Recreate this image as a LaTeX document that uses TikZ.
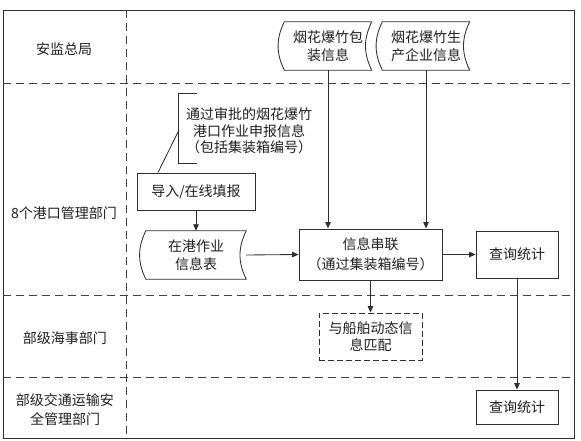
\documentclass[tikz,border=0pt]{standalone}
\usepackage{fontspec}
\setmainfont{Noto Sans CJK SC}
\usetikzlibrary{arrows.meta,calc}
\begin{document}
\begin{tikzpicture}[x=1pt,y=-1pt,
  ln/.style={draw=black!82,line width=0.85pt},
  lane/.style={draw=black!75,line width=0.9pt,dash pattern=on 8pt off 5pt},
  txt/.style={text=black!88,font=\fontsize{14}{18}\selectfont,align=center},
  boxx/.style={txt,ln,inner sep=0pt},
  store/.style={txt,draw=none,inner sep=0pt},
  arr/.style={ln,-{Triangle[length=6.5pt,width=5.5pt]}}]
\useasboundingbox (0,0) rectangle (581,441);
% frame and lanes
\draw[ln] (3,10) rectangle (574,438);
\draw[lane] (126,10) -- (126,438);
\draw[lane] (3,83) -- (574,83);
\draw[lane] (3,295) -- (574,295);
\draw[lane] (3,377) -- (574,377);
% lane labels
\node[txt] (l1) at (64,49) {安监总局};
\node[txt] (l2) at (64,213) {8个港口管理部门};
\node[txt] (l3) at (65,338) {部级海事部门};
\node[txt,font=\fontsize{14}{19}\selectfont] (l4) at (65,410) {部级交通运输安\\全管理部门};
% stored data
\node[store,minimum width=87pt,minimum height=48pt] (pk) at (328,46) {烟花爆竹包\\装信息};
\node[store,minimum width=87pt,minimum height=48pt] (sc) at (426,46) {烟花爆竹生\\产企业信息};
\node[store,minimum width=100pt,minimum height=48pt] (zg) at (196,255) {在港作业\\信息表};
\foreach \s in {pk,sc,zg}{
  \draw[ln] (\s.north west) to[bend right=26] (\s.south west) -- (\s.south east)
            to[bend left=26] (\s.north east) -- cycle;}
% boxes
\node[boxx,minimum width=118pt,minimum height=37pt] (imp) at (196,191.5) {导入/在线填报};
\node[boxx,minimum width=143pt,minimum height=51pt,font=\fontsize{14}{20}\selectfont] (xl) at (370.5,254.5) {信息串联\\（通过集装箱编号）};
\node[boxx,minimum width=82pt,minimum height=47pt] (cx1) at (517,254.5) {查询统计};
\node[boxx,minimum width=103pt,minimum height=47pt,dash pattern=on 6pt off 3pt,font=\fontsize{14}{17.5}\selectfont] (pp) at (370.5,336.5) {与船舶动态信\\息匹配};
\node[boxx,minimum width=82pt,minimum height=34pt] (cx2) at (517,407) {查询统计};
% annotation
\node[txt,font=\fontsize{14}{16.5}\selectfont] (ann) at (249,131) {通过审批的烟花爆竹\\港口作业申报信息\\（包括集装箱编号）};
\draw[ln] (197,93) -- (178,93) -- (178,163) -- (197,163);
\coordinate (brk) at (179,130);
\draw[ln] (brk) -- ($(imp.north west)!0.18!(imp.north east)$);
% connectors
\draw[arr] (imp.south) -- (zg.north);
\draw[arr] (zg.east) -- (xl.west);
\draw[arr] (pk.south) -- (pk.south |- xl.north);
\draw[arr] (sc.south) -- (sc.south |- xl.north);
\draw[arr] (xl.east) -- (cx1.west);
\draw[arr] (xl.south) -- (pp.north);
\draw[arr] (cx1.south) -- (cx2.north);
\end{tikzpicture}
\end{document}
